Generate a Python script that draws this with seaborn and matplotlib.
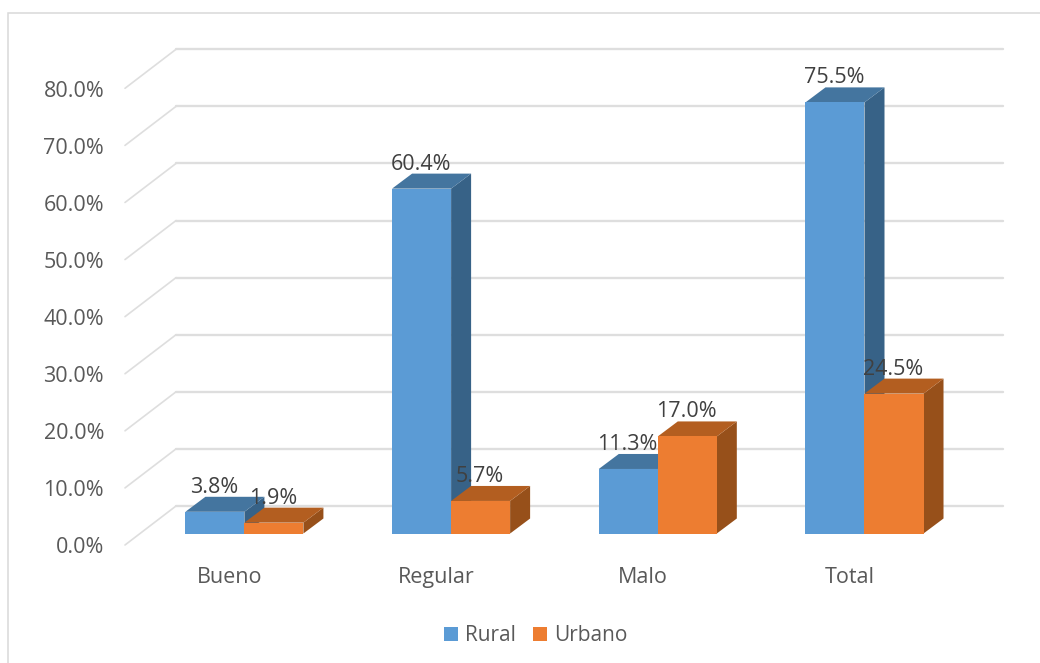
import matplotlib
matplotlib.use("Agg")
import matplotlib.pyplot as plt
import pandas as pd
import seaborn as sns
from matplotlib.patches import Patch, Polygon, Rectangle
from matplotlib.transforms import ScaledTranslation

categories = ["Bueno", "Regular", "Malo", "Total"]
rural = [3.8, 60.4, 11.3, 75.5]
urbano = [1.9, 5.7, 17.0, 24.5]
series_names = ["Rural", "Urbano"]
y_ticks = [0, 10, 20, 30, 40, 50, 60, 70, 80]

front_colors = ["#5B9BD5", "#ED7D31"]
top_colors = ["#44759F", "#B35E20"]
side_colors = ["#376287", "#97501A"]

sns.set_theme(style="white")
plt.rcParams["font.family"] = ["Open Sans", "DejaVu Sans"]

W, H = 1040, 663
FS = 15.5
fig = plt.figure(figsize=(W / 100, H / 100), dpi=100, facecolor="white")


def box(left, top, right, bottom):
    return [left / W, 1 - bottom / H, (right - left) / W, (bottom - top) / H]


# frame of the chart area (runs off the right and bottom edges)
fig.add_artist(Rectangle((7.5 / W, -0.1), 1.2, 1.1 - 13.5 / H, transform=fig.transFigure,
                         fill=False, edgecolor="#D9D9D9", linewidth=1.1))

# back wall with gridlines and value axis
PX_PER_UNIT = 5.71
wall = fig.add_axes(box(125, 88.3, 1003, 545))
wall.set_xlim(0, 878)
wall.set_ylim(0, 80)
wall.patch.set_visible(False)
for s in wall.spines.values():
    s.set_visible(False)
wall.set_xticks([])
wall.set_yticks(y_ticks, [f"{v:.1f}%" for v in y_ticks])
wall.tick_params(axis="y", length=0, pad=15, labelsize=FS, labelcolor="#595959")
for lab in wall.get_yticklabels():
    lab.set_transform(lab.get_transform() + ScaledTranslation(0, -0.3 / 100, fig.dpi_scale_trans))
rise = 39 / PX_PER_UNIT
for v in y_ticks:
    wall.plot([0, 51], [v, v + rise], color="#DEDEDE", lw=1.2, clip_on=False, zorder=1)
    wall.plot([51, 878], [v + rise, v + rise], color="#DEDEDE", lw=1.7, clip_on=False, zorder=1)

# bars
group_step = 206.7
x0_px = 244.4
ax = fig.add_axes(box(125, 49, 1003, 533.5))
ax.patch.set_visible(False)
df = pd.DataFrame({
    "Categoria": categories * 2,
    "Zona": [series_names[0]] * 4 + [series_names[1]] * 4,
    "Porcentaje": rural + urbano,
})
sns.barplot(data=df, x="Categoria", y="Porcentaje", hue="Zona", order=categories,
            hue_order=series_names, palette=front_colors, saturation=1, width=0.571,
            gap=0, legend=False, ax=ax)
ax.set_xlim((125 - x0_px) / group_step, (1003 - x0_px) / group_step)
ax.set_ylim(0, (533.5 - 49) / PX_PER_UNIT)
ax.set_xlabel("")
ax.set_ylabel("")
ax.set_yticks([])
label_shift = 15 / group_step
ax.set_xticks([i - label_shift for i in range(len(categories))], categories)
ax.tick_params(axis="x", length=0, pad=24.2, labelsize=FS, labelcolor="#595959")
for s in ax.spines.values():
    s.set_visible(False)

dx = 20 / group_step
dy = 15 / PX_PER_UNIT
for idx, container in enumerate(ax.containers):
    z = 3 + idx * 2
    for bar in container:
        bar.set_zorder(z)
        bar.set_linewidth(0)
        xl, w, h = bar.get_x(), bar.get_width(), bar.get_height()
        xr = xl + w
        ax.add_patch(Polygon([(xr, 0), (xr + dx, dy), (xr + dx, h + dy), (xr, h)], closed=True,
                             facecolor=side_colors[idx], edgecolor="none", zorder=z - 0.5, clip_on=False))
        ax.add_patch(Polygon([(xl, h), (xl + dx, h + dy), (xr + dx, h + dy), (xr, h)], closed=True,
                             facecolor=top_colors[idx], edgecolor="none", zorder=z - 0.4, clip_on=False))
        ax.annotate(f"{h:.1f}%", (xl + w / 2, h), xytext=(-0.5, 24.5 * 0.72), textcoords="offset points",
                    ha="center", va="center", fontsize=FS, color="#404040", zorder=20,
                    annotation_clip=False)

handles = [Patch(facecolor=c, edgecolor="none", label=n) for c, n in zip(front_colors, series_names)]
fig.legend(handles=handles, loc="center", bbox_to_anchor=(535.5 / W, 1 - 635.5 / H), ncol=2, frameon=False,
           fontsize=15, labelcolor="#595959", handlelength=0.67, handleheight=0.67,
           handletextpad=0.33, columnspacing=0.82)

fig.savefig("out.png", dpi=100)
